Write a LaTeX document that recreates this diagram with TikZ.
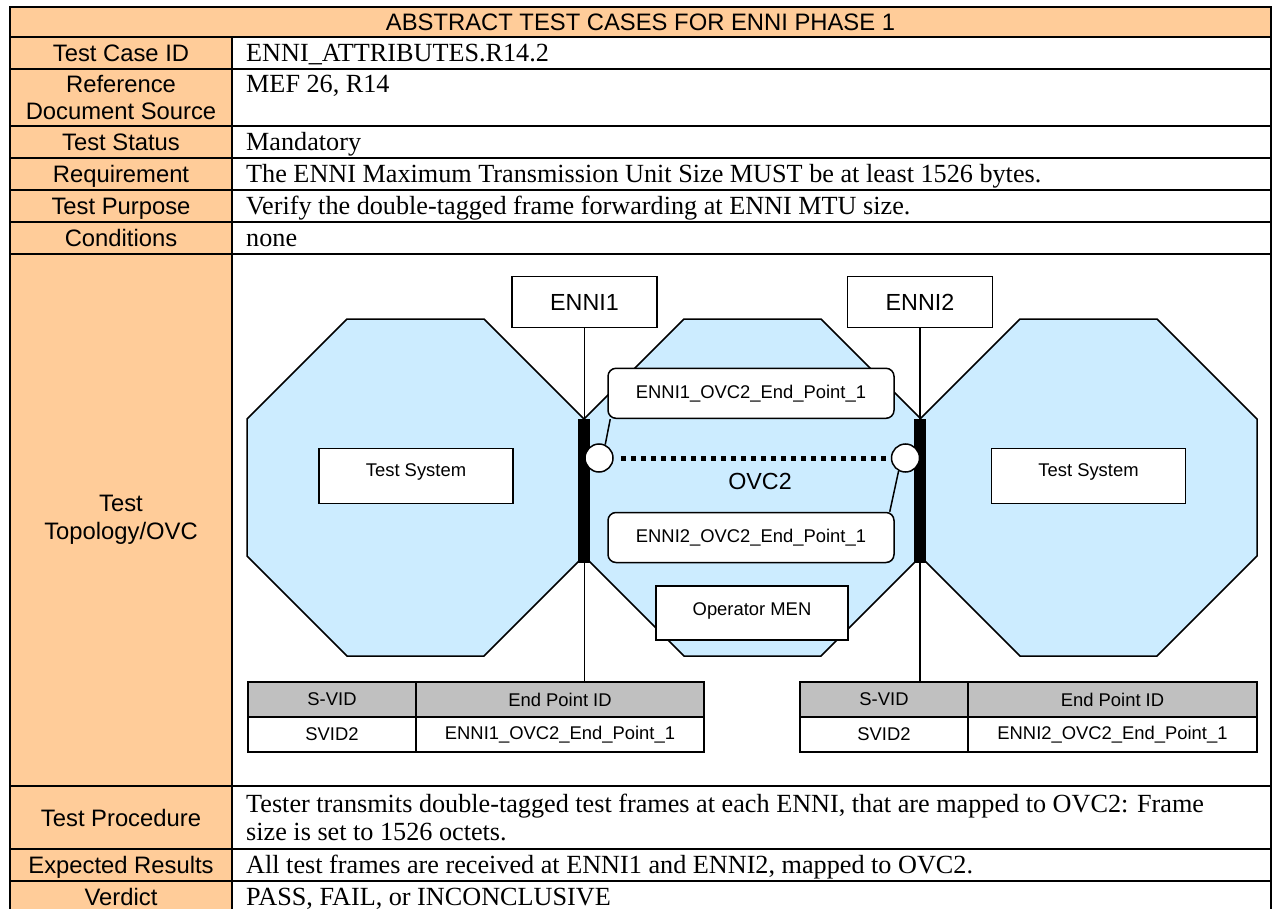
\documentclass[tikz,border=0pt]{standalone}
\usepackage{fontspec}
\setmainfont{Liberation Serif}
\setsansfont{Liberation Sans}
\usepackage{tikz}
\usepackage{xcolor}
\usetikzlibrary{positioning}

\definecolor{tan}{HTML}{FFCC99}
\definecolor{netblue}{HTML}{CCECFF}
\definecolor{cellgray}{HTML}{C0C0C0}

\begin{document}
\begin{tikzpicture}[x=1pt,y=-1pt,
  rule/.style={line width=2pt},
  rowhead/.style={font=\sffamily\fontsize{23.8}{27.5}\selectfont, inner sep=0pt, text height=17pt, text depth=0pt},
  rowhead2/.style={font=\sffamily\fontsize{23.8}{27.5}\selectfont, inner sep=0pt, align=center},
  rowtext/.style={font=\rmfamily\fontsize{26.2}{27.5}\selectfont, anchor=base west, inner sep=0pt, align=left},
  octo/.style={draw, fill=netblue, line width=1.5pt},
  ennibox/.style={draw, fill=white, line width=1.5pt, font=\sffamily\fontsize{23.3}{28}\selectfont, minimum width=145pt, minimum height=51pt, inner sep=0pt},
  sysbox/.style={draw, fill=white, line width=1.5pt, font=\sffamily\fontsize{18.4}{22}\selectfont, inner sep=0pt},
  epbox/.style={sysbox, rounded corners=8pt, minimum width=286pt, minimum height=50pt},
  cell/.style={draw, line width=1.5pt, font=\sffamily\fontsize{18.4}{22}\selectfont, minimum height=35pt, inner sep=0pt},
  endpt/.style={circle, draw, fill=white, line width=1.5pt, minimum size=28pt, inner sep=0pt},
  ovcline/.style={line width=5pt, dash pattern=on 5pt off 5pt},
  wire/.style={line width=1.5pt}]

\useasboundingbox (0,0) rectangle (1274,909);

% Table background
\fill[tan] (10,7) rectangle (1271,37);
\fill[tan] (10,37) rectangle (232,913);

% Table rules
\draw[rule] (10,7) rectangle (1271,913);
\foreach \y in {37,69,126,158,190,222,254,786,849,881}
  \draw[rule] (10,\y) -- (1271,\y);
\draw[rule] (232,37) -- (232,913);

% Left column
\node[rowhead] (title) at (640.5,22) {ABSTRACT TEST CASES FOR ENNI PHASE 1};
\node[rowhead] (caseid) at (121,53) {Test Case ID};
\node[rowhead2] (refdoc) at (121,97.5) {Reference\\Document Source};
\node[rowhead] (status) at (121,142) {Test Status};
\node[rowhead] (requirement) at (121,174) {Requirement};
\node[rowhead] (purpose) at (121,206) {Test Purpose};
\node[rowhead] (conditions) at (121,238) {Conditions};
\node[rowhead2] (topology) at (121,520) {Test\\Topology/OVC};
\node[rowhead] (procedure) at (121,817.5) {Test Procedure};
\node[rowhead] (expected) at (121,865) {Expected Results};
\node[rowhead] (verdict) at (121,897) {Verdict};

% Right column
\node[rowtext] (caseidv) at (246,61.7) {ENNI\_ATTRIBUTES.R14.2};
\node[rowtext] (refdocv) at (246,92.7) {MEF 26, R14};
\node[rowtext] (statusv) at (246,150.7) {Mandatory};
\node[rowtext] (requirementv) at (246,182.7) {The ENNI Maximum Transmission Unit Size MUST be at least 1526 bytes.};
\node[rowtext] (purposev) at (246,214.7) {Verify the double-tagged frame forwarding at ENNI MTU size.};
\node[rowtext] (conditionsv) at (246,246.7) {none};
\node[rowtext] (procedurev) at (246,840) {Tester transmits double-tagged test frames at each ENNI, that are mapped to OVC2: Frame\\size is set to 1526 octets.};
\node[rowtext] (expectedv) at (246,873.7) {All test frames are received at ENNI1 and ENNI2, mapped to OVC2.};
\node[rowtext] (verdictv) at (246,905.7) {PASS, FAIL, or INCONCLUSIVE};

% Networks
\foreach \l in {247,584,920}
  \draw[octo] (\l+100,319) -- (\l+237,319) -- (\l+337,419) -- (\l+337,556) -- (\l+237,656) -- (\l+100,656) -- (\l,556) -- (\l,419) -- cycle;

% ENNI boxes
\node[ennibox] (enni1) at (584.5,302) {ENNI1};
\node[ennibox] (enni2) at (920,302) {ENNI2};

% Left table
\node[cell, fill=cellgray, minimum width=168pt] (svid1) at (332,699.5) {S-VID};
\node[cell, fill=cellgray, minimum width=288pt] (epid1) at (560,699.5) {End Point ID};
\node[cell, minimum width=168pt] (svidval1) at (332,734.5) {SVID2};
\node[cell, minimum width=288pt] (epidval1) at (560,734.5) {ENNI1\_OVC2\_End\_Point\_1};

% Right table
\node[cell, fill=cellgray, minimum width=168pt] (svid2) at (884,699.5) {S-VID};
\node[cell, fill=cellgray, minimum width=289pt] (epid2) at (1112.5,699.5) {End Point ID};
\node[cell, minimum width=168pt] (svidval2) at (884,734.5) {SVID2};
\node[cell, minimum width=289pt] (epidval2) at (1112.5,734.5) {ENNI2\_OVC2\_End\_Point\_1};

% ENNI links
\draw[wire] (enni1) -- (enni1 |- epid1.north);
\draw[wire] (enni2) -- (enni2 |- svid2.north);

% Bars
\fill (578,419) rectangle (590,563);
\fill (914,419) rectangle (926,563);

% OVC
\node[endpt] (ovc1) at (599,458) {};
\node[endpt] (ovc2) at (905.5,458) {};
\draw[ovcline] ([xshift=7pt]ovc1.east) -- (ovc2.west);
\node[font=\sffamily\fontsize{23.3}{28}\selectfont, inner sep=0pt] (ovclabel) at (760,481) {OVC2};

% End point names
\node[epbox] (ep1) at (751,393.3) {ENNI1\_OVC2\_End\_Point\_1};
\node[epbox] (ep2) at (751,537.5) {ENNI2\_OVC2\_End\_Point\_1};
\draw[wire] (ovc1.65) -- ([xshift=3pt]ep1.south west);
\draw[wire] (ovc2.242) -- ([xshift=-5pt]ep2.north east);

% Systems
\node[sysbox, minimum width=194pt, minimum height=55pt, text depth=12pt] (sys1) at (416,475.8) {Test System};
\node[sysbox, minimum width=194pt, minimum height=55pt, text depth=12pt] (sys2) at (1088.5,475.8) {Test System};
\node[sysbox, minimum width=192pt, minimum height=54pt, text depth=8.5pt] (men) at (752,613) {Operator MEN};

\end{tikzpicture}
\end{document}
